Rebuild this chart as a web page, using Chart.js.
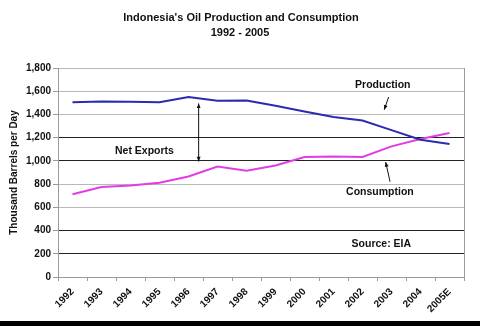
<!DOCTYPE html>
<html>
<head>
<meta charset="utf-8">
<script src="https://cdn.jsdelivr.net/npm/chart.js@4"></script>
<style>
  html, body { margin: 0; padding: 0; background: #fff; }
  #wrap { width: 480px; height: 326px; position: relative; }
</style>
</head>
<body>
<div id="wrap"><canvas id="oilChart" width="480" height="326"></canvas></div>
<script>
// Chart data
const years = ['1992', '1993', '1994', '1995', '1996', '1997', '1998',
  '1999', '2000', '2001', '2002', '2003', '2004', '2005E'];
const production = [1504, 1512, 1510, 1505, 1550, 1518, 1520,
  1475, 1426, 1378, 1348, 1265, 1182, 1146];
const consumption = [712, 775, 789, 812, 866, 952, 916,
  960, 1033, 1038, 1034, 1125, 1189, 1240];
const yTicks = [0, 200, 400, 600, 800, 1000, 1200, 1400, 1600, 1800];
// gridlines that render darker in the original
const darkGrid = [200, 400, 1000, 1200];

const FONT = '"Liberation Sans", Arial, sans-serif';

/**
 * Text labels and arrows drawn over the plot
 */
const annotations = {
  id: 'annotations',
  afterDatasetsDraw(chart) {
    const { ctx, scales: { x, y } } = chart;
    const xAt = i => x.getPixelForValue(0) + i * (x.getPixelForValue(1) - x.getPixelForValue(0));

    ctx.save();
    ctx.fillStyle = '#111';
    ctx.font = 'bold 10.5px ' + FONT;
    ctx.textAlign = 'center';
    ctx.textBaseline = 'middle';
    ctx.fillText('Production', xAt(10.7), y.getPixelForValue(1650));
    ctx.fillText('Consumption', xAt(10.6), y.getPixelForValue(735));
    ctx.fillText('Net Exports', xAt(2.48), y.getPixelForValue(1080));
    ctx.fillText('Source: EIA', xAt(10.65), y.getPixelForValue(280));

    const arrow = (x1, y1, x2, y2, both) => {
      ctx.beginPath();
      ctx.moveTo(x1, y1);
      ctx.lineTo(x2, y2);
      ctx.strokeStyle = '#111';
      ctx.lineWidth = 1;
      ctx.stroke();
      const head = (px, py, ang) => {
        ctx.beginPath();
        ctx.moveTo(px, py);
        ctx.lineTo(px - 5 * Math.cos(ang - 0.4), py - 5 * Math.sin(ang - 0.4));
        ctx.lineTo(px - 5 * Math.cos(ang + 0.4), py - 5 * Math.sin(ang + 0.4));
        ctx.closePath();
        ctx.fill();
      };
      const a = Math.atan2(y2 - y1, x2 - x1);
      head(x2, y2, a);
      if (both) head(x1, y1, a + Math.PI);
    };

    // net exports double arrow
    arrow(xAt(4.35), y.getPixelForValue(1495), xAt(4.35), y.getPixelForValue(995), true);
    // production pointer
    arrow(xAt(10.9), y.getPixelForValue(1550), xAt(10.75), y.getPixelForValue(1440), false);
    // consumption pointer
    arrow(xAt(10.95), y.getPixelForValue(820), xAt(10.8), y.getPixelForValue(990), false);

    // right frame line
    ctx.beginPath();
    ctx.moveTo(chart.chartArea.right + 0.5, chart.chartArea.top);
    ctx.lineTo(chart.chartArea.right + 0.5, chart.chartArea.bottom + 4);
    ctx.strokeStyle = '#9a9a9a';
    ctx.stroke();
    ctx.restore();
  },
  afterDraw(chart) {
    const { ctx } = chart;
    ctx.save();
    ctx.fillStyle = '#111';
    ctx.font = 'bold 11px ' + FONT;
    ctx.textAlign = 'center';
    ctx.textBaseline = 'middle';
    ctx.fillText("Indonesia's Oil Production and Consumption", 241, 18);
    ctx.fillText('1992 - 2005', 240, 33);
    // dark strip along the bottom edge
    ctx.fillStyle = '#000';
    ctx.fillRect(0, 321, 480, 5);
    ctx.restore();
  }
};

new Chart(document.getElementById('oilChart'), {
  type: 'line',
  data: {
    labels: years,
    datasets: [{
      label: 'Production',
      data: production,
      borderColor: '#2b2bb0',
      borderWidth: 2,
      pointRadius: 0,
      tension: 0
    }, {
      label: 'Consumption',
      data: consumption,
      borderColor: '#e23ce2',
      borderWidth: 2,
      pointRadius: 0,
      tension: 0
    }]
  },
  options: {
    responsive: false,
    animation: false,
    layout: { padding: { left: 0, right: 16, top: 68, bottom: 0 } },
    plugins: {
      legend: { display: false },
      tooltip: { enabled: false }
    },
    scales: {
      x: {
        offset: true,
        grid: {
          offset: true,
          drawOnChartArea: false,
          drawTicks: true,
          tickLength: 4,
          color: '#9a9a9a'
        },
        border: { color: '#9a9a9a' },
        ticks: {
          color: '#111',
          font: { family: FONT, size: 10, weight: 'bold' },
          minRotation: 45,
          maxRotation: 45,
          padding: 5
        },
        afterFit(scale) { scale.height = 49; }
      },
      y: {
        min: 0,
        max: 1800,
        afterBuildTicks(scale) { scale.ticks = yTicks.map(v => ({ value: v })); },
        grid: {
          color: c => darkGrid.includes(c.tick && c.tick.value) ? '#222' : '#b8b8b8',
          tickColor: '#9a9a9a',
          tickLength: 5
        },
        border: { color: '#9a9a9a' },
        ticks: {
          color: '#111',
          font: { family: FONT, size: 10, weight: 'bold' },
          padding: 2,
          callback: v => v.toLocaleString('en-US')
        },
        title: {
          display: true,
          text: 'Thousand Barrels per Day',
          color: '#111',
          font: { family: FONT, size: 10, weight: 'bold' },
          padding: { top: 8, bottom: 0 }
        },
        afterFit(scale) { scale.width = 58; }
      }
    }
  },
  plugins: [annotations]
});
</script>
</body>
</html>
